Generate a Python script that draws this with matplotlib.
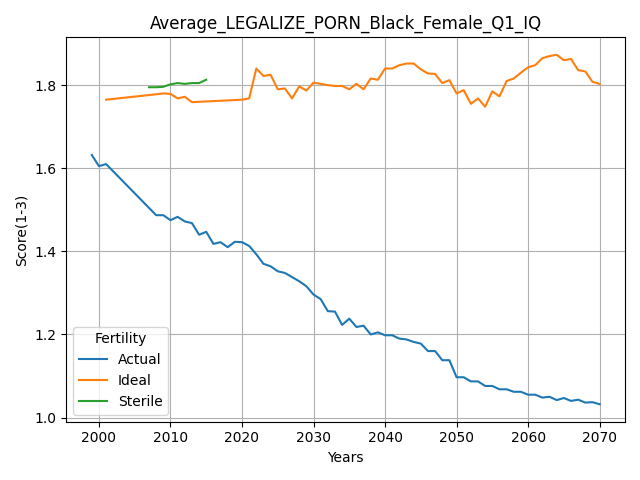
import matplotlib
matplotlib.use("Agg")
import matplotlib.pyplot as plt

actual_years = [1999, 2000, 2001, 2008] + list(range(2009, 2071))
actual = [1.632, 1.605, 1.61, 1.487,
          1.487, 1.475, 1.483, 1.472, 1.468, 1.44, 1.447, 1.418, 1.422, 1.41, 1.423,
          1.422, 1.413, 1.393, 1.37, 1.364, 1.352, 1.348, 1.338, 1.328, 1.316,
          1.296, 1.285, 1.256, 1.255, 1.223, 1.238, 1.218, 1.221, 1.2, 1.205,
          1.198, 1.198, 1.19, 1.188, 1.182, 1.178, 1.16, 1.16, 1.138, 1.138,
          1.097, 1.097, 1.087, 1.087, 1.076, 1.076, 1.068, 1.068, 1.062, 1.062,
          1.055, 1.055, 1.048, 1.05, 1.042, 1.047, 1.04, 1.043, 1.036, 1.037, 1.032]

ideal_years = [2001, 2008, 2009, 2010, 2011, 2012, 2013, 2020] + list(range(2021, 2071))
ideal = [1.765, 1.778, 1.78, 1.779, 1.768, 1.772, 1.759, 1.765,
         1.768, 1.84, 1.822, 1.825, 1.79, 1.792, 1.768, 1.797, 1.787,
         1.806, 1.803, 1.8, 1.798, 1.798, 1.79, 1.803, 1.79, 1.816, 1.813,
         1.84, 1.84, 1.848, 1.852, 1.852, 1.838, 1.828, 1.827, 1.805, 1.812,
         1.78, 1.788, 1.755, 1.768, 1.748, 1.785, 1.773, 1.81, 1.816, 1.83,
         1.843, 1.848, 1.865, 1.87, 1.873, 1.86, 1.863, 1.836, 1.833, 1.808, 1.803]

sterile_years = list(range(2007, 2016))
sterile = [1.795, 1.795, 1.796, 1.802, 1.805, 1.803, 1.805, 1.805, 1.813]

fig, ax = plt.subplots(figsize=(6.4, 4.8), dpi=100)
ax.plot(actual_years, actual, label="Actual")
ax.plot(ideal_years, ideal, label="Ideal")
ax.plot(sterile_years, sterile, label="Sterile")
ax.set_title("Average_LEGALIZE_PORN_Black_Female_Q1_IQ")
ax.set_xlabel("Years")
ax.set_ylabel("Score(1-3)")
ax.grid(True)
ax.legend(title="Fertility", loc="lower left")
fig.tight_layout()
fig.savefig("out.png")
